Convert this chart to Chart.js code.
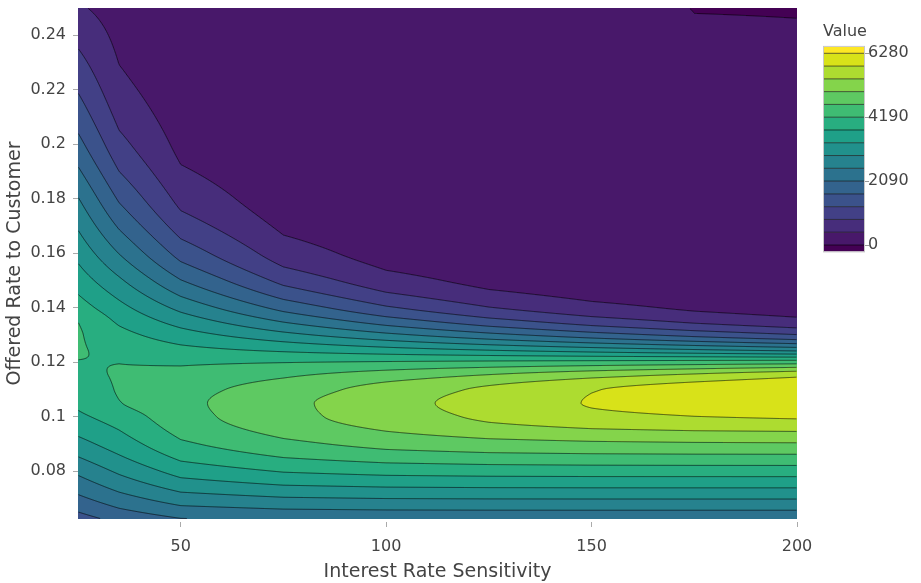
<!DOCTYPE html>
<html>
<head>
<meta charset="utf-8">
<title>Value by offered rate and interest rate sensitivity</title>
<script src="https://cdn.jsdelivr.net/npm/chart.js@4.4.1/dist/chart.umd.min.js"></script>
<style>
  html, body { margin: 0; padding: 0; background: #fff; }
</style>
</head>
<body>
<canvas id="chart" width="921" height="583"></canvas>
<script>
// grid columns (interest rate sensitivity) and rows (offered rate)
const sensitivity = [25, 35, 50, 75, 100, 125, 150, 175, 200];
const offeredRate = [0.0625, 0.07, 0.08, 0.09, 0.1, 0.105, 0.11, 0.115, 0.12, 0.125,
                     0.13, 0.135, 0.14, 0.15, 0.16, 0.18, 0.2, 0.225, 0.25];

// value along each sensitivity column, one entry per offered rate row
const valueS25  = [1500, 2000, 2600, 3200, 3680, 3850, 3990, 4090, 4175, 4225, 4230, 4185, 3967, 3576, 3224, 2536, 1807, 1094, 480];
const valueS35  = [1800, 2350, 3000, 3550, 3960, 4170, 4215, 4220, 4180, 4060, 3900, 3700, 3480, 3000, 2500, 1620, 960, 470, 220];
const valueS50  = [2072, 2735, 3516, 4116, 4452, 4498, 4457, 4330, 4125, 3853, 3531, 3178, 2813, 2111, 1510, 705, 306, 103, 33];
const valueS75  = [2156, 2885, 3793, 4500, 4890, 4910, 4800, 4560, 4175, 3642, 3059, 2483, 1956, 1133, 618, 168, 43, 7.7, 1.3];
const valueS100 = [2177, 2930, 3903, 4740, 5230, 5290, 5190, 4830, 4225, 3434, 2621, 1895, 1312, 579, 241, 38.8, 6, 0.57, 0.05];
const valueS125 = [2182, 2943, 3944, 4870, 5520, 5610, 5520, 5080, 4275, 3231, 2223, 1418, 858, 288, 92, 8.9, 0.83, 0.042, 0.02];
const valueS150 = [2183, 2947, 3960, 4935, 5730, 5890, 5840, 5340, 4325, 3032, 1867, 1045, 552, 141, 35, 2, 0.1, 0.03, 0.01];
const valueS175 = [2183, 2948, 3965, 4966, 5850, 6080, 6060, 5560, 4375, 2840, 1555, 761, 350, 69, 13, 0.48, 0.02, 0.006, -0.0005];
const valueS200 = [2183, 2948, 3967, 4978, 5919, 6230, 6250, 5800, 4425, 2653, 1286, 549, 221, 34, 5, 0.5, 0.01, 0.004, -0.0007];
const valueColumns = [valueS25, valueS35, valueS50, valueS75, valueS100, valueS125, valueS150, valueS175, valueS200];

// contour levels and colour bar
const contourStart = 0;
const contourEnd = 6280;
const contourCount = 15;
const colorbarTicks = [0, 2090, 4190, 6280];
const bandColors = ['#440154', '#48186a', '#472d7b', '#424086', '#3b528b', '#33638d', '#2c728e', '#26828e',
                    '#21918c', '#1fa088', '#28ae80', '#3fbc73', '#5ec962', '#84d44b', '#addc30', '#d8e219', '#fde725'];

const xTicks = [50, 100, 150, 200];
const yTicks = [0.08, 0.1, 0.12, 0.14, 0.16, 0.18, 0.2, 0.22, 0.24];

const levelSize = (contourEnd - contourStart) / contourCount;
const levels = [];
for (let k = 0; k <= contourCount; k++) levels.push(contourStart + k * levelSize);

const FONT = 'DejaVu Sans';
const TEXT = '#444';
const LINE = 'rgba(0, 0, 0, 0.6)';

// monotone cubic slopes for a column (Fritsch-Butland)
function pchipSlopes(xs, ys) {
  const n = xs.length, h = [], d = [], m = new Array(n);
  for (let i = 0; i < n - 1; i++) {
    h[i] = xs[i + 1] - xs[i];
    d[i] = (ys[i + 1] - ys[i]) / h[i];
  }
  m[0] = d[0];
  m[n - 1] = d[n - 2];
  for (let i = 1; i < n - 1; i++) {
    if (d[i - 1] * d[i] <= 0) { m[i] = 0; continue; }
    const w1 = 2 * h[i] + h[i - 1], w2 = h[i] + 2 * h[i - 1];
    m[i] = (w1 + w2) / (w1 / d[i - 1] + w2 / d[i]);
  }
  return m;
}

function pchipEval(xs, ys, m, v) {
  let i = 0;
  while (i < xs.length - 2 && v > xs[i + 1]) i++;
  const h = xs[i + 1] - xs[i];
  const t = Math.min(1, Math.max(0, (v - xs[i]) / h));
  const t2 = t * t, t3 = t2 * t;
  return (2 * t3 - 3 * t2 + 1) * ys[i] + (t3 - 2 * t2 + t) * h * m[i] +
         (-2 * t3 + 3 * t2) * ys[i + 1] + (t3 - t2) * h * m[i + 1];
}

function bandOf(z) {
  let k = 0;
  while (k < levels.length && z >= levels[k]) k++;
  return k;
}

function hexToRgb(hex) {
  const n = parseInt(hex.slice(1), 16);
  return [(n >> 16) & 255, (n >> 8) & 255, n & 255];
}

const contourPlugin = {
  id: 'contourFill',
  beforeDatasetsDraw(chart) {
    const { ctx, chartArea: area, scales: { x, y } } = chart;
    const w = Math.round(area.right - area.left);
    const h = Math.round(area.bottom - area.top);
    const slopes = valueColumns.map(col => pchipSlopes(offeredRate, col));

    // where each pixel column sits between two sensitivity columns
    const idx = new Int32Array(w), frac = new Float64Array(w);
    for (let i = 0; i < w; i++) {
      const s = x.getValueForPixel(area.left + i + 0.5);
      let k = 0;
      while (k < sensitivity.length - 2 && s > sensitivity[k + 1]) k++;
      idx[i] = k;
      frac[i] = Math.min(1, Math.max(0, (s - sensitivity[k]) / (sensitivity[k + 1] - sensitivity[k])));
    }

    const field = new Float32Array(w * h);
    const atRow = new Float64Array(sensitivity.length);
    for (let j = 0; j < h; j++) {
      const r = y.getValueForPixel(area.top + j + 0.5);
      for (let c = 0; c < sensitivity.length; c++) atRow[c] = pchipEval(offeredRate, valueColumns[c], slopes[c], r);
      for (let i = 0; i < w; i++) {
        const k = idx[i], t = frac[i];
        field[j * w + i] = atRow[k] * (1 - t) + atRow[k + 1] * t;
      }
    }

    // filled bands
    const rgb = bandColors.map(hexToRgb);
    const off = document.createElement('canvas');
    off.width = w; off.height = h;
    const octx = off.getContext('2d');
    const img = octx.createImageData(w, h);
    for (let p = 0; p < w * h; p++) {
      const c = rgb[bandOf(field[p])];
      img.data[p * 4] = c[0];
      img.data[p * 4 + 1] = c[1];
      img.data[p * 4 + 2] = c[2];
      img.data[p * 4 + 3] = 255;
    }
    octx.putImageData(img, 0, 0);
    ctx.drawImage(off, area.left, area.top);

    // contour lines by marching squares over the pixel field
    ctx.save();
    ctx.beginPath();
    ctx.rect(area.left, area.top, w, h);
    ctx.clip();
    ctx.lineWidth = 1;
    ctx.strokeStyle = LINE;
    const ox = area.left + 0.5, oy = area.top + 0.5;
    for (const L of levels) {
      ctx.beginPath();
      for (let j = 0; j < h - 1; j++) {
        for (let i = 0; i < w - 1; i++) {
          const a0 = field[j * w + i], a1 = field[j * w + i + 1];
          const a2 = field[(j + 1) * w + i + 1], a3 = field[(j + 1) * w + i];
          const code = (a0 >= L ? 8 : 0) | (a1 >= L ? 4 : 0) | (a2 >= L ? 2 : 0) | (a3 >= L ? 1 : 0);
          if (code === 0 || code === 15) continue;
          const pts = [];
          if ((a0 >= L) !== (a1 >= L)) pts.push([i + (L - a0) / (a1 - a0), j]);
          if ((a1 >= L) !== (a2 >= L)) pts.push([i + 1, j + (L - a1) / (a2 - a1)]);
          if ((a3 >= L) !== (a2 >= L)) pts.push([i + (L - a3) / (a2 - a3), j + 1]);
          if ((a0 >= L) !== (a3 >= L)) pts.push([i, j + (L - a0) / (a3 - a0)]);
          for (let q = 0; q + 1 < pts.length; q += 2) {
            ctx.moveTo(ox + pts[q][0], oy + pts[q][1]);
            ctx.lineTo(ox + pts[q + 1][0], oy + pts[q + 1][1]);
          }
        }
      }
      ctx.stroke();
    }
    ctx.restore();
  },
  afterDraw(chart) {
    const { ctx, scales: { cb } } = chart;
    const bx = cb.left + 27, bw = 40;
    const bandEdges = [contourStart - levelSize / 2, ...levels, contourEnd + levelSize / 2];
    ctx.save();
    for (let k = 0; k < bandColors.length; k++) {
      const yTop = cb.getPixelForValue(bandEdges[k + 1]);
      const yBot = cb.getPixelForValue(bandEdges[k]);
      ctx.fillStyle = bandColors[k];
      ctx.fillRect(bx, yTop, bw, yBot - yTop);
    }
    ctx.strokeStyle = LINE;
    ctx.lineWidth = 1;
    ctx.beginPath();
    for (const L of levels) {
      const py = cb.getPixelForValue(L);
      ctx.moveTo(bx, py);
      ctx.lineTo(bx + bw, py);
    }
    ctx.stroke();
    const yTop = cb.getPixelForValue(bandEdges[bandEdges.length - 1]);
    const yBot = cb.getPixelForValue(bandEdges[0]);
    ctx.strokeStyle = '#c8c8c8';
    ctx.strokeRect(bx - 0.5, yTop - 0.5, bw + 1, yBot - yTop + 1);
    ctx.strokeStyle = '#999';
    ctx.beginPath();
    for (const v of colorbarTicks) {
      const py = Math.round(cb.getPixelForValue(v)) + 0.5;
      ctx.moveTo(bx + bw + 1, py);
      ctx.lineTo(bx + bw + 5, py);
    }
    ctx.stroke();
    ctx.fillStyle = TEXT;
    ctx.font = '16px "' + FONT + '"';
    ctx.textAlign = 'left';
    ctx.textBaseline = 'middle';
    ctx.fillText('Value', bx - 1, 32);
    ctx.restore();
  }
};

const tickFont = { family: FONT, size: 16 };
const titleFont = { family: FONT, size: 19 };

// fixed box sizes so the plot area lands at 78..797 x 8..519
function fixVertical(width) {
  return s => { s.width = width; s.paddingTop = 0; s.paddingBottom = 0; };
}

new Chart(document.getElementById('chart'), {
  type: 'scatter',
  data: { datasets: [] },
  options: {
    responsive: false,
    devicePixelRatio: 1,
    animation: false,
    layout: { padding: { top: 8, left: 0, right: 0, bottom: 0 } },
    plugins: { legend: { display: false }, tooltip: { enabled: false } },
    scales: {
      x: {
        type: 'linear',
        position: 'bottom',
        min: 25,
        max: 200,
        afterBuildTicks: s => { s.ticks = xTicks.map(v => ({ value: v })); },
        afterFit: s => { s.height = 64; s.paddingLeft = 0; s.paddingRight = 0; },
        grid: { drawOnChartArea: false, tickLength: 8, tickBorderDash: [0, 3, 5, 20], tickColor: '#aaa' },
        border: { display: false },
        ticks: { font: tickFont, color: TEXT, padding: 10, maxRotation: 0 },
        title: { display: true, text: 'Interest Rate Sensitivity', font: titleFont, color: TEXT, padding: { top: 0, bottom: 0 } }
      },
      y: {
        type: 'linear',
        position: 'left',
        min: 0.0625,
        max: 0.25,
        afterBuildTicks: s => { s.ticks = yTicks.map(v => ({ value: v })); },
        afterFit: fixVertical(78),
        grid: { drawOnChartArea: false, tickLength: 8, tickBorderDash: [0, 3, 5, 20], tickColor: '#aaa' },
        border: { display: false },
        ticks: { font: tickFont, color: TEXT, padding: 4, callback: v => String(+v.toFixed(2)) },
        title: { display: true, text: 'Offered Rate to Customer', font: titleFont, color: TEXT, padding: { top: 4, bottom: 0 } }
      },
      cb: {
        type: 'linear',
        position: 'right',
        min: -8976,
        max: 7764,
        afterBuildTicks: s => { s.ticks = colorbarTicks.map(v => ({ value: v })); },
        afterFit: fixVertical(124),
        grid: { display: false, drawTicks: false },
        border: { display: false },
        ticks: { font: tickFont, color: TEXT, padding: 71, callback: v => String(v) }
      }
    }
  },
  plugins: [contourPlugin]
});
</script>
</body>
</html>
